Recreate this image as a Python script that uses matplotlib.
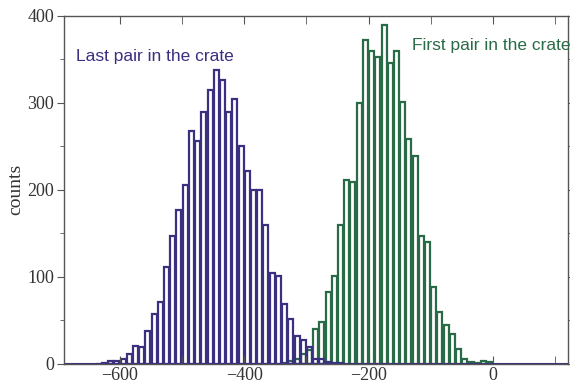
import numpy as np
import matplotlib.pyplot as plt
from matplotlib.ticker import MultipleLocator

# left edges of the 10-wide bins
last_edges = list(range(-640, -240, 10))
last_counts = [0, 1, 3, 3, 6, 11, 21, 19, 38, 57,
               71, 111, 147, 177, 206, 268, 256, 289, 315, 338,
               326, 289, 304, 250, 222, 200, 200, 160, 105, 101,
               69, 52, 32, 27, 19, 6, 6, 2, 1, 1]

first_edges = list(range(-340, 0, 10))
first_counts = [1, 3, 6, 12, 16, 40, 48, 83, 101, 159,
                211, 209, 300, 372, 359, 352, 389, 346, 359, 301,
                258, 239, 147, 140, 88, 60, 45, 35, 17, 6,
                2, 1, 3, 2]

purple = '#3b2f80'
green = '#2a6b47'

fig = plt.figure(figsize=(5.7, 3.89), dpi=100)
ax = fig.add_axes([64 / 570, 1 - 364 / 389, 504 / 570, 348.5 / 389])

ax.bar(np.array(first_edges) + 5, first_counts, width=8, fill=False,
       edgecolor=green, linewidth=1.6)
ax.bar(np.array(last_edges) + 5, last_counts, width=8, fill=False,
       edgecolor=purple, linewidth=1.6)
ax.axhline(0, color=purple, linewidth=1.5)

ax.set_xlim(-690, 121)
ax.set_ylim(0, 400)

ax.xaxis.set_major_locator(MultipleLocator(200))
ax.xaxis.set_minor_locator(MultipleLocator(100))
ax.yaxis.set_major_locator(MultipleLocator(100))
ax.yaxis.set_minor_locator(MultipleLocator(50))
ax.tick_params(axis='x', which='both', direction='in', top=True, length=6, color='#555555')
ax.tick_params(axis='y', which='major', direction='out', length=5, color='#555555')
ax.tick_params(axis='y', which='minor', direction='out', length=3, color='#555555')
ax.tick_params(axis='y', which='both', right=True)
ax.tick_params(labelsize=13, labelcolor='#333333', pad=2)
for lab in ax.get_xticklabels() + ax.get_yticklabels():
    lab.set_family('Liberation Serif')

for s in ax.spines.values():
    s.set_color('#555555')
    s.set_linewidth(1.0)

ax.set_ylabel('counts', family='Liberation Serif', fontsize=14, color='#333333', labelpad=2)

ax.text(-671, 348, 'Last pair in the crate', color=purple, fontsize=12.5,
        family='Liberation Sans')
ax.text(-130, 360, 'First pair in the crate', color=green, fontsize=12.5,
        family='Liberation Sans', clip_on=False)

fig.savefig('out.png', dpi=100)
